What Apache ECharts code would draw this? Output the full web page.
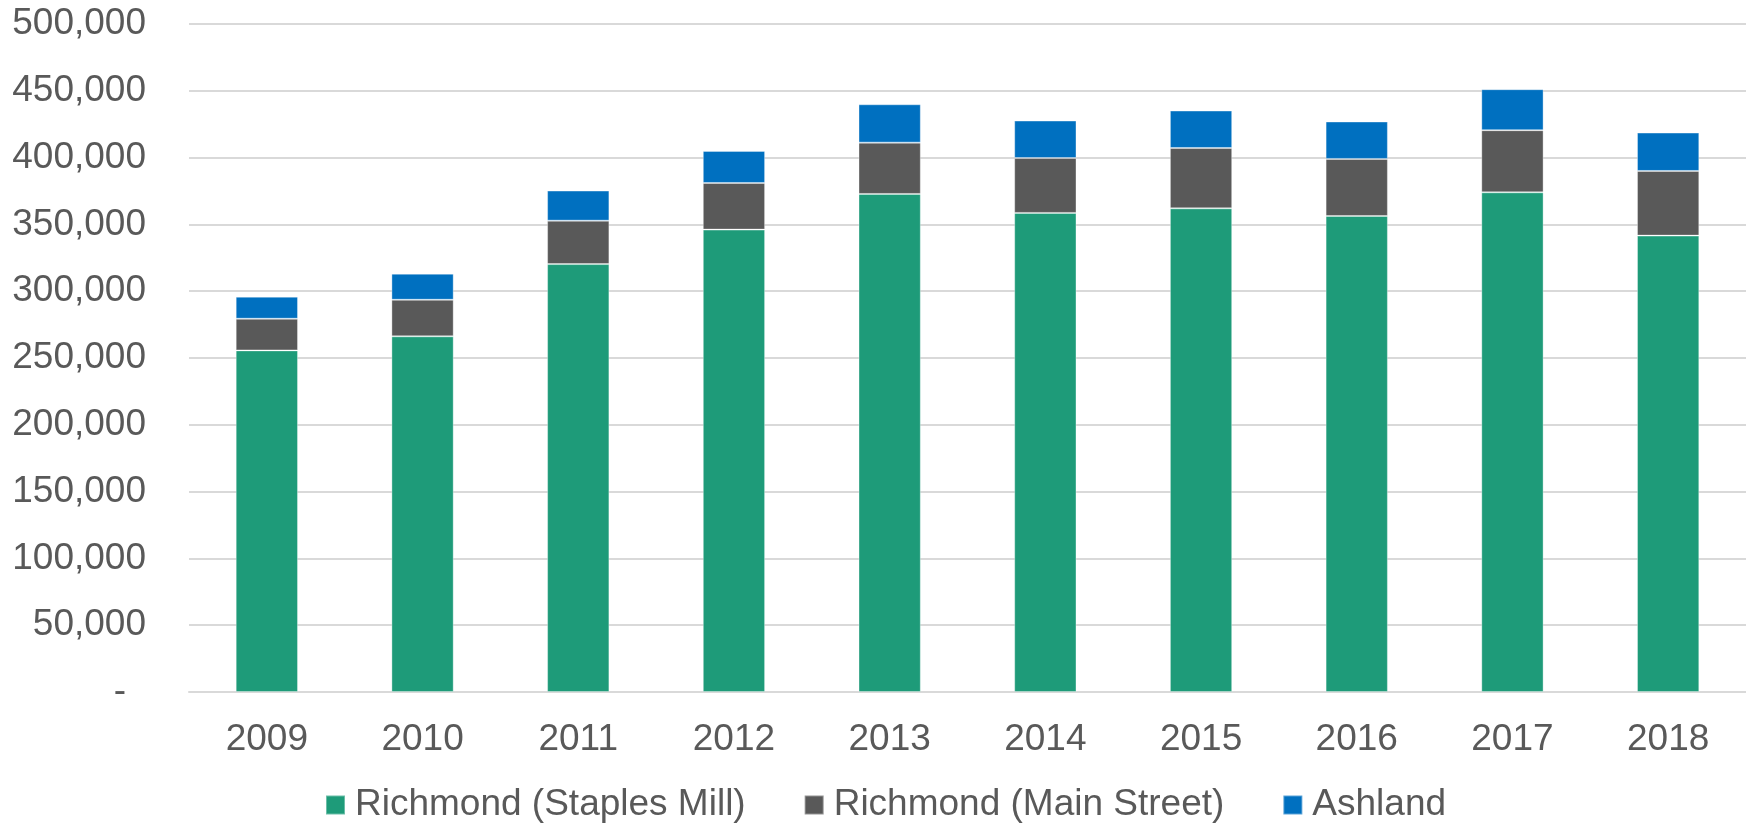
<!DOCTYPE html>
<html>
<head>
<meta charset="utf-8">
<script src="https://cdn.jsdelivr.net/npm/echarts@6/dist/echarts.min.js"></script>
<style>
html,body{margin:0;padding:0;background:#fff;}
#main{width:1746px;height:824px;}
</style>
</head>
<body>
<div id="main"></div>
<script>
const categories = ['2009','2010','2011','2012','2013','2014','2015','2016','2017','2018'];
const staplesMill = [255700, 266200, 320300, 346100, 372800, 358600, 362000, 356300, 374000, 341600];
const mainStreet  = [23700, 27400, 32500, 34900, 38400, 41100, 45200, 42700, 46500, 48400];
const ashland     = [16500, 19500, 22500, 24000, 28700, 28000, 28000, 28000, 30700, 28700];
const seriesNames = ['Richmond (Staples Mill)', 'Richmond (Main Street)', 'Ashland'];
const colors = ['#1E9B79', '#595959', '#0070C0'];

const font = '"Liberation Sans", Arial, sans-serif';
const chart = echarts.init(document.getElementById('main'));
const mk = (name, data, color) => ({
  name, type: 'bar', stack: 'total', data, barWidth: '40%',
  itemStyle: { color, borderColor: 'rgba(255,255,255,0.35)', borderWidth: 1 },
  emphasis: { disabled: true }
});
chart.setOption({
  animation: false,
  textStyle: { fontFamily: font },
  grid: { left: 189, right: 0, top: 24, bottom: 132, containLabel: false },
  legend: {
    top: 779, left: 320,
    itemWidth: 19, itemHeight: 19, itemGap: 58,
    icon: 'rect',
    textStyle: { fontSize: 37, lineHeight: 42, color: '#595959', fontFamily: font, padding: [0, 0, 0, 5] },
    data: seriesNames
  },
  xAxis: {
    type: 'category', data: categories,
    axisLine: { lineStyle: { color: '#d9d9d9', width: 2 } },
    axisTick: { show: false },
    axisLabel: { fontSize: 37, color: '#595959', margin: 29, fontFamily: font }
  },
  yAxis: {
    type: 'value', min: 0, max: 500000, interval: 50000,
    axisLine: { show: false }, axisTick: { show: false },
    splitLine: { lineStyle: { color: '#d9d9d9', width: 2 } },
    axisLabel: {
      fontSize: 37, color: '#595959', margin: 43, fontFamily: font,
      formatter: v => v === 0 ? '{d|-}' : v.toLocaleString('en-US'),
      rich: { d: { fontSize: 37, color: '#595959', padding: [0, 20, 0, 0], fontFamily: font } }
    }
  },
  series: [
    mk(seriesNames[0], staplesMill, colors[0]),
    mk(seriesNames[1], mainStreet, colors[1]),
    mk(seriesNames[2], ashland, colors[2])
  ]
});
</script>
</body>
</html>
